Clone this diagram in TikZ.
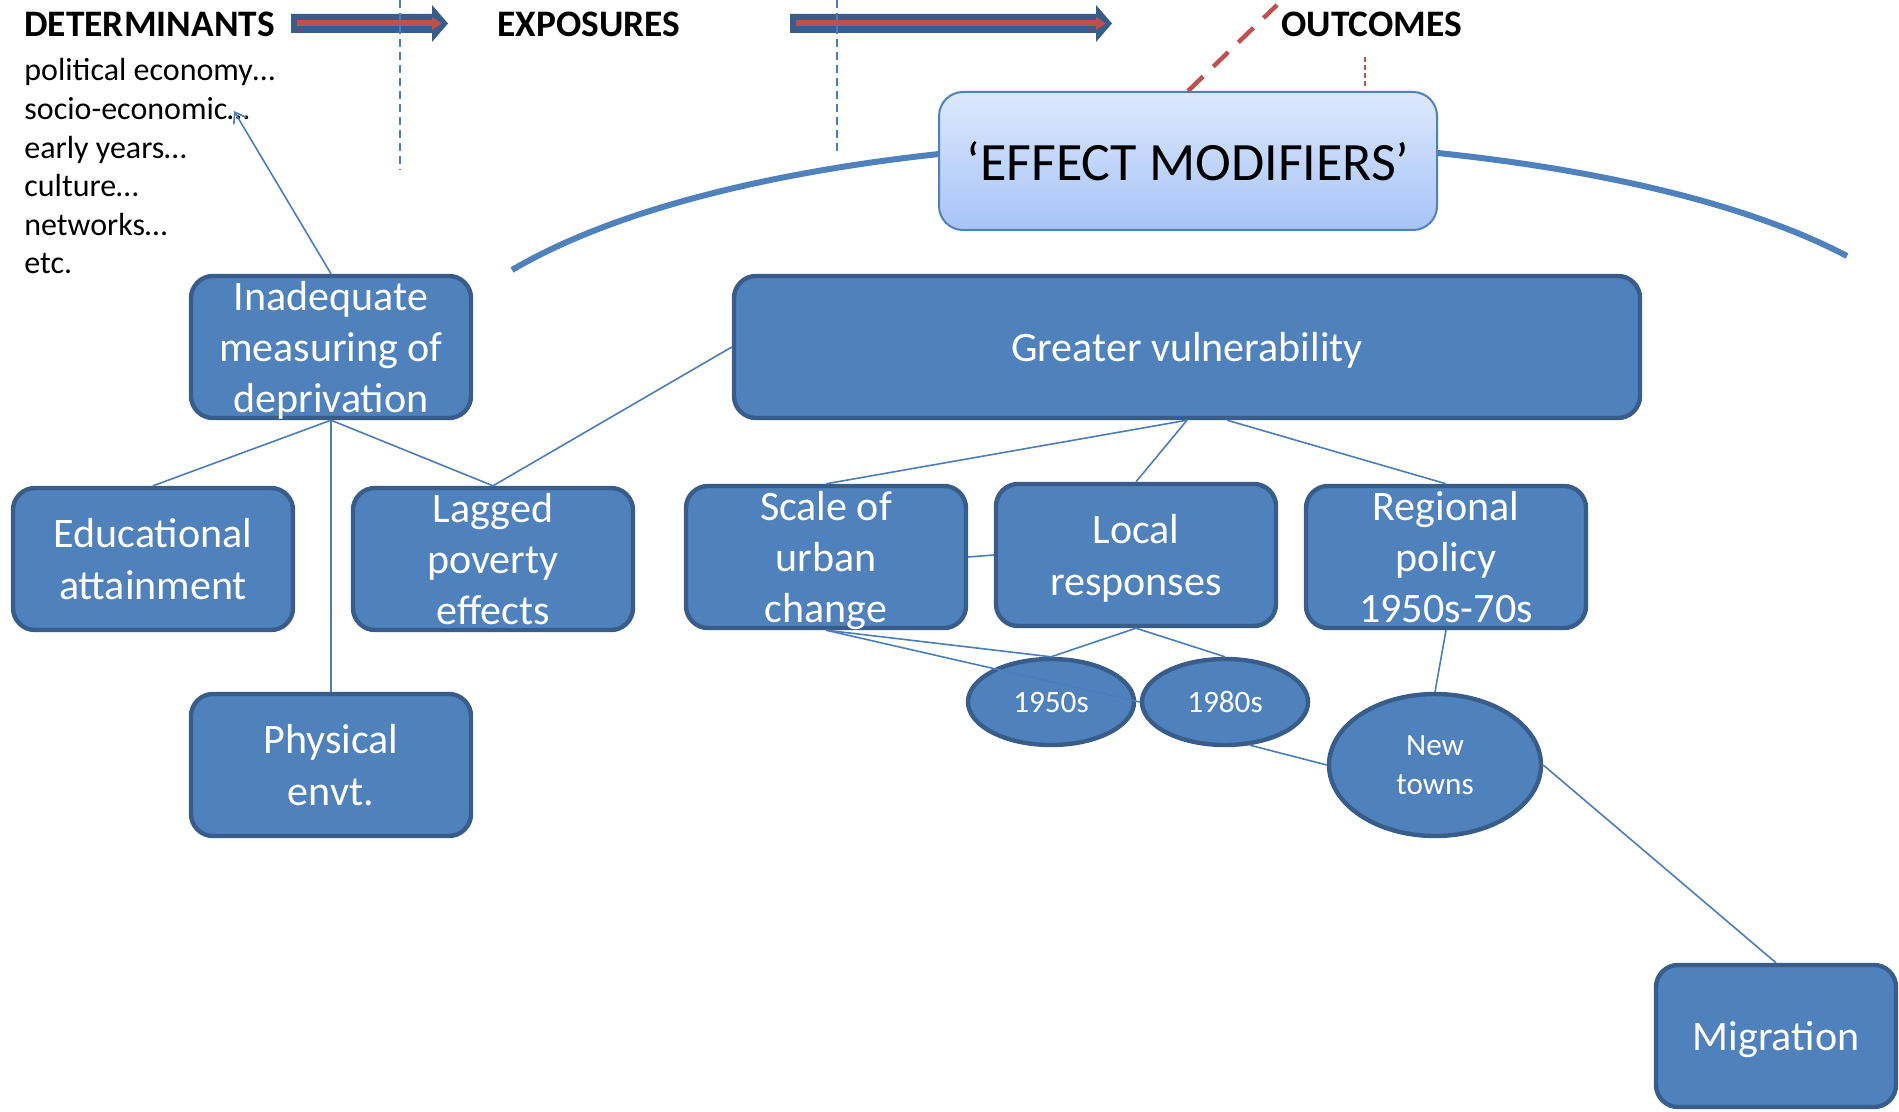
\documentclass[tikz,border=0pt]{standalone}
\usepackage{fontspec}
\setmainfont{Carlito}
\usetikzlibrary{shapes.geometric,arrows.meta}
\definecolor{boxfill}{HTML}{4F81BD}
\definecolor{boxline}{HTML}{385D8A}
\definecolor{linkcol}{HTML}{4A7EBB}
\definecolor{redcol}{HTML}{C0504D}
\definecolor{emtop}{HTML}{DDE8FC}
\definecolor{embottom}{HTML}{A7C4F9}

\begin{document}
\begin{tikzpicture}[x=0.5pt, y=-0.5pt,
   box/.style={draw=boxline, line width=2.2pt, fill=boxfill, rounded corners=11pt,
               text=white, align=center, inner sep=2pt,
               minimum width=140pt, minimum height=71pt,
               font=\fontsize{21}{25.6}\selectfont, text depth=0pt,
               execute at begin node={\rule{0pt}{14pt}}},
   oval/.style={ellipse, draw=boxline, line width=2.2pt, fill=boxfill, text=white,
                align=center, inner sep=0pt, font=\fontsize{15.6}{19.4}\selectfont},
   link/.style={draw=linkcol, line width=0.8pt},
   head/.style={anchor=west, inner sep=0pt, font=\fontsize{18.7}{22}\bfseries\selectfont},
   listitem/.style={anchor=base west, inner sep=0pt, font=\fontsize{16}{19.4}\selectfont}]

\useasboundingbox (0,0) rectangle (1899,1112);

\node[head] (det) at (24,24) {DETERMINANTS};
\node[head] (expo) at (497,24) {EXPOSURES};
\node[head] (outc) at (1281,24) {OUTCOMES};

\foreach \a/\b in {291/448, 790/1112} {
  \fill[boxline] (\a,14) -- ({\b-16},14) -- ({\b-16},5) -- (\b,23.5) -- ({\b-16},42)
     -- ({\b-16},33) -- (\a,33) -- cycle;
  \draw[redcol, line width=3pt, -{Triangle[length=5pt,width=6pt]}] ({\a+6},23.5) -- ({\b-6},23.5);
}

\draw[linkcol, line width=1pt, dash pattern=on 4pt off 2.5pt] (400,0) -- (400,170);
\draw[linkcol, line width=1pt, dash pattern=on 4pt off 2.5pt] (837,0) -- (837,155);

\foreach \t [count=\i] in {political economy…, socio-economic…, early years…,
                           culture…, networks…, etc.}
  \node[listitem] (d\i) at (24,{81+38.6*(\i-1)}) {\t};

\draw[boxfill, line width=3pt] (512,270) .. controls (800,100) and (1550,100) .. (1847,256);

\node[draw=boxfill, line width=1pt, rounded corners=12pt, top color=emtop, bottom color=embottom,
      minimum width=249pt, minimum height=69pt, font=\fontsize{27}{30}\selectfont]
      (em) at (1188,161) {‘EFFECT MODIFIERS’};

\coordinate (redend) at (1277,5);
\draw[redcol, line width=2.2pt, dash pattern=on 10.5pt off 7pt] (em.north) -- (redend);
\draw[redcol, line width=1pt, dash pattern=on 2.5pt off 1.5pt] (1365,57) -- (1365,87);

\node[box] (inad) at (331,347) {Inadequate\\measuring of\\deprivation};
\node[box] (edu) at (153,559) {Educational\\attainment};
\node[box] (lag) at (493,559) {Lagged\\poverty\\effects};
\node[box] (phys) at (331,765) {Physical\\envt.};
\node[box, minimum width=453pt] (gv) at (1187,347) {Greater vulnerability};
\node[box] (scale) at (826,557) {Scale of\\urban\\change};
\node[box] (local) at (1136,555) {Local\\responses};
\node[box] (region) at (1446,557) {Regional\\policy\\1950s-70s};
\node[box, minimum width=120pt] (migr) at (1776,1036) {Migration};

\node[oval, minimum width=83pt, minimum height=43pt] (y1950) at (1051,702) {1950s};
\node[oval, minimum width=83pt, minimum height=43pt] (y1980) at (1225,702) {1980s};
\node[oval, minimum width=106pt, minimum height=71pt] (newt) at (1435,765) {New\\towns};

\coordinate (socend) at (234,111);
\draw[link, -{Straight Barb[length=5pt,width=7pt]}] (inad.north) -- (socend);

\draw[link] (inad.south) -- (edu.north);
\draw[link] (inad.south) -- (lag.north);
\draw[link] (inad.south) -- (phys.north);
\draw[link] (gv.west) -- (lag.north);
\draw[link] (gv.south) -- (scale.north);
\draw[link] (gv.south) -- (local.north);
\draw[link] ([xshift=20pt]gv.south) -- (region.north);
\draw[link] (scale.east) -- (local.west);
\draw[link] (scale.south) -- (y1950.north);
\draw[link] (scale.south) -- (y1980.west);
\draw[link] (local.south) -- (y1950.north);
\draw[link] (local.south) -- (y1980.north);
\draw[link] (y1980.-60) -- (newt.west);
\draw[link] (region.south) -- (newt.north);
\draw[link] (newt.east) -- (migr.north);

\end{tikzpicture}
\end{document}
